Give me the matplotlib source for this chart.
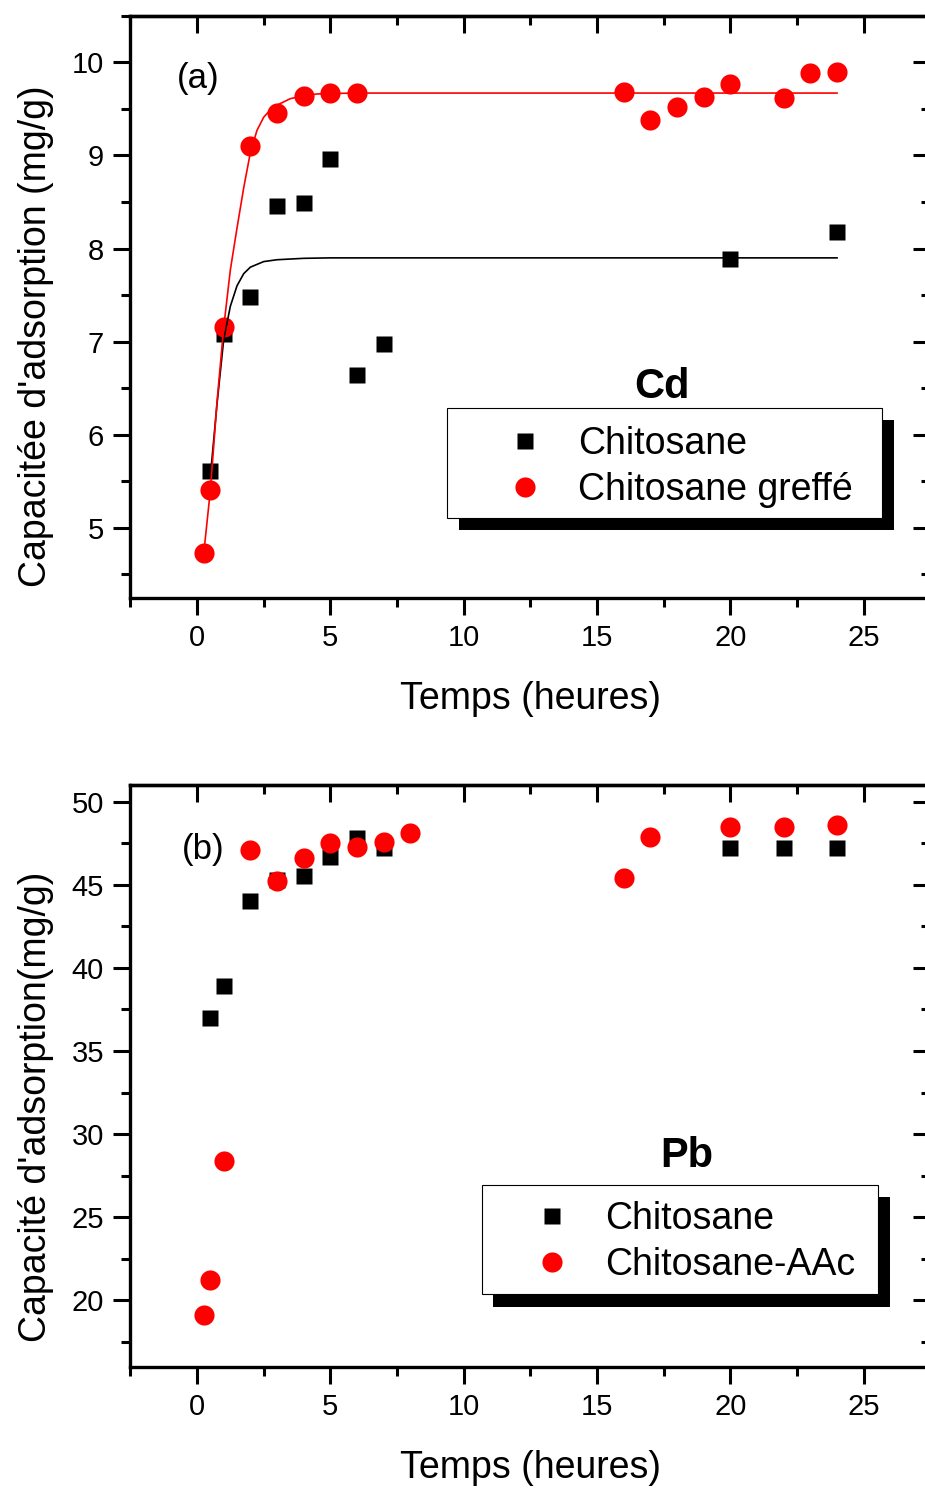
import matplotlib
matplotlib.use('Agg')
import matplotlib.pyplot as plt
from matplotlib.ticker import MultipleLocator
from matplotlib.patches import Rectangle

plt.rcParams['font.family'] = ['Liberation Sans', 'DejaVu Sans']

# Cd adsorption kinetics (a)
t_cd_chito = [0.5, 1, 2, 3, 4, 5, 6, 7, 20, 24]
q_cd_chito = [5.61, 7.08, 7.48, 8.46, 8.49, 8.96, 6.64, 6.97, 7.89, 8.18]
t_cd_greffe = [0.25, 0.5, 1, 2, 3, 4, 5, 6, 16, 17, 18, 19, 20, 22, 23, 24]
q_cd_greffe = [4.73, 5.41, 7.16, 9.10, 9.46, 9.64, 9.67, 9.67, 9.68, 9.38, 9.52,
               9.63, 9.77, 9.62, 9.89, 9.90]

# fitted curves for Cd
t_fit_chito = [0.5, 0.75, 1.0, 1.25, 1.5, 1.75, 2.0, 2.5, 3.0, 4.0, 5.0, 24.0]
q_fit_chito = [5.55, 6.33, 7.02, 7.38, 7.60, 7.73, 7.80, 7.86, 7.88, 7.895, 7.90, 7.90]
t_fit_greffe = [0.25, 0.5, 0.75, 1.0, 1.25, 1.5, 1.75, 2.0, 2.25, 2.5, 2.75, 3.0,
                3.5, 4.0, 4.5, 5.0, 6.0, 24.0]
q_fit_greffe = [4.72, 5.40, 6.35, 7.15, 7.77, 8.22, 8.65, 9.03, 9.27, 9.41, 9.49,
                9.54, 9.61, 9.64, 9.66, 9.665, 9.67, 9.67]

# Pb adsorption kinetics (b)
t_pb_chito = [0.5, 1, 2, 3, 4, 5, 6, 7, 20, 22, 24]
q_pb_chito = [37.0, 38.9, 44.0, 45.3, 45.5, 46.7, 47.8, 47.2, 47.2, 47.2, 47.2]
t_pb_aac = [0.25, 0.5, 1, 2, 3, 4, 5, 6, 7, 8, 16, 17, 20, 22, 24]
q_pb_aac = [19.1, 21.2, 28.4, 47.1, 45.2, 46.6, 47.5, 47.3, 47.6, 48.1, 45.4,
            47.9, 48.5, 48.5, 48.6]

fig = plt.figure(figsize=(9.25, 14.88), dpi=100)
ax1 = fig.add_axes([0.1409, 0.5983, 0.8649, 0.3911])
ax2 = fig.add_axes([0.1409, 0.0815, 0.8649, 0.3909])

sq = dict(ls='none', marker='s', ms=12, mec='none', color='black')
ci = dict(ls='none', marker='o', ms=14.5, mec='none', color='red')

h1, = ax1.plot(t_cd_chito, q_cd_chito, label='Chitosane', **sq)
h2, = ax1.plot(t_cd_greffe, q_cd_greffe, label='Chitosane greffé', **ci)
ax1.plot(t_fit_chito, q_fit_chito, color='black', lw=1.2)
ax1.plot(t_fit_greffe, q_fit_greffe, color='red', lw=1.2)

g1, = ax2.plot(t_pb_chito, q_pb_chito, label='Chitosane', **sq)
g2, = ax2.plot(t_pb_aac, q_pb_aac, label='Chitosane-AAc', **ci)

ax1.set_ylim(4.25, 10.5)
ax1.yaxis.set_major_locator(MultipleLocator(1))
ax1.yaxis.set_minor_locator(MultipleLocator(0.5))
ax2.set_ylim(16, 51)
ax2.yaxis.set_major_locator(MultipleLocator(5))
ax2.yaxis.set_minor_locator(MultipleLocator(2.5))

for ax in (ax1, ax2):
    ax.set_xlim(-2.5, 27.5)
    ax.xaxis.set_major_locator(MultipleLocator(5))
    ax.xaxis.set_minor_locator(MultipleLocator(2.5))
    for s in ax.spines.values():
        s.set_linewidth(2.4)
    ax.tick_params(which='major', direction='out', length=12, width=2.2,
                   labelsize=21, pad=7)
    ax.tick_params(which='minor', direction='out', length=6.5, width=2.2)
    ax.set_xlabel('Temps (heures)', fontsize=27, labelpad=21)
    # inward ticks on top and right
    top = ax.secondary_xaxis('top')
    top.xaxis.set_major_locator(MultipleLocator(5))
    top.xaxis.set_minor_locator(MultipleLocator(2.5))
    right = ax.secondary_yaxis('right')
    right.yaxis.set_major_locator(ax.yaxis.get_major_locator())
    right.yaxis.set_minor_locator(ax.yaxis.get_minor_locator())
    for sec in (top, right):
        sec.tick_params(which='major', direction='in', length=12, width=2.2,
                        labelleft=False, labelright=False, labeltop=False)
        sec.tick_params(which='minor', direction='in', length=6.5, width=2.2)
        for s in sec.spines.values():
            s.set_linewidth(2.4)

ax1.set_ylabel("Capacitée d'adsorption (mg/g)", fontsize=27)
ax2.set_ylabel("Capacité d'adsorption(mg/g)", fontsize=27)
ax1.yaxis.set_label_coords(-0.096, 0.45)
ax2.yaxis.set_label_coords(-0.096, 0.447)

ax1.text(0.0846, 0.893, '(a)', transform=ax1.transAxes, fontsize=25,
         ha='center', va='center')
ax2.text(0.0909, 0.890, '(b)', transform=ax2.transAxes, fontsize=25,
         ha='center', va='center')
ax1.text(0.6646, 0.362, 'Cd', transform=ax1.transAxes, fontsize=30,
         fontweight='bold', ha='center', va='center')
ax2.text(0.6955, 0.362, 'Pb', transform=ax2.transAxes, fontsize=30,
         fontweight='bold', ha='center', va='center')


def boxed_legend(ax, handles, anchor, box, shift):
    x0, y0, w, h = box
    ax.add_patch(Rectangle((x0 + shift[0], y0 - shift[1]), w, h,
                           transform=ax.transAxes, facecolor='black',
                           edgecolor='none', zorder=4.4))
    ax.add_patch(Rectangle((x0, y0), w, h, transform=ax.transAxes,
                           facecolor='white', edgecolor='black', lw=0.8,
                           zorder=4.5))
    ax.legend(handles=handles, loc='center left', bbox_to_anchor=anchor,
              frameon=False, fontsize=27, borderpad=0, borderaxespad=0,
              handlelength=2, handletextpad=0.41, labelspacing=0.27)


boxed_legend(ax1, [h1, h2], (0.4465, 0.2246), (0.3959, 0.137, 0.5437, 0.189),
             (0.0144, 0.0198))
boxed_legend(ax2, [g1, g2], (0.4799, 0.2144), (0.4393, 0.1245, 0.4957, 0.1879),
             (0.0146, 0.0213))

fig.savefig('out.png', dpi=100)
